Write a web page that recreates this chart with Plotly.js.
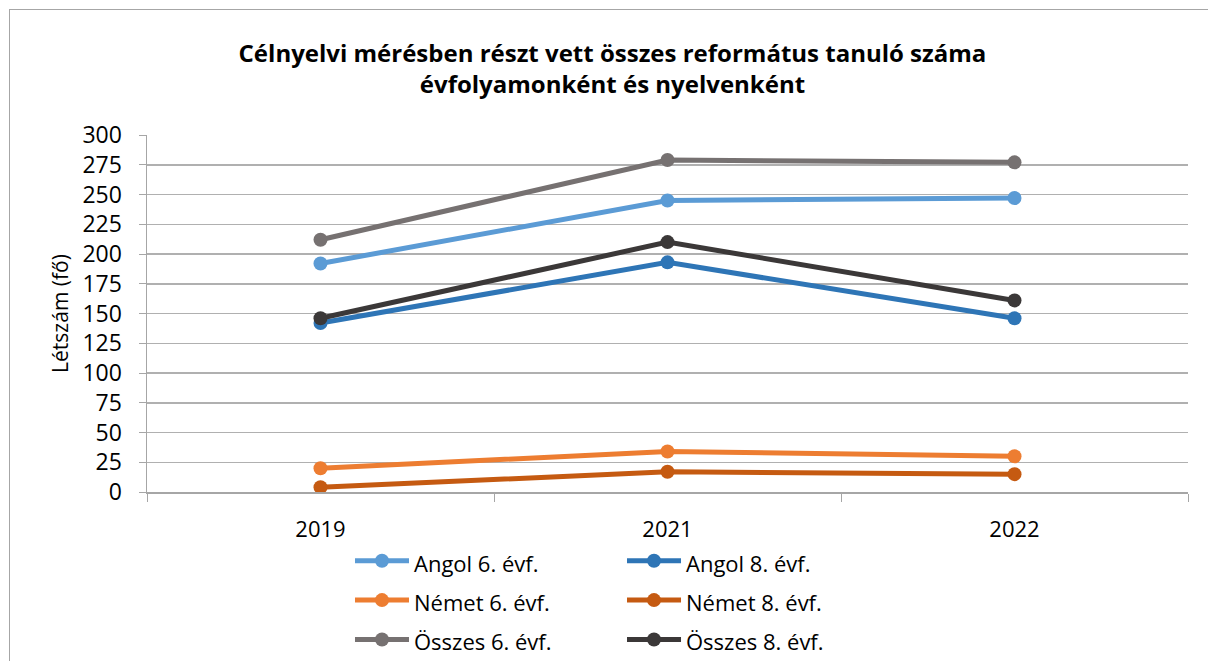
<!DOCTYPE html>
<html>
<head>
<meta charset="utf-8">
<script src="https://cdn.plot.ly/plotly-3.0.1.min.js"></script>
<style>
  html, body { margin: 0; padding: 0; background: #ffffff; }
  #chart { position: absolute; left: 0; top: 0; width: 1208px; height: 661px; }
  #frame { position: absolute; left: 9px; top: 9px; width: 1220px; height: 700px;
           border-left: 1px solid #a6a6a6; border-top: 1px solid #a6a6a6; pointer-events: none; }
</style>
</head>
<body>
<div id="chart"></div>
<div id="frame"></div>
<script>
const years = ["2019", "2021", "2022"];
const seriesNames = ["Angol 6. évf.", "Angol 8. évf.", "Német 6. évf.", "Német 8. évf.", "Összes 6. évf.", "Összes 8. évf."];
const angol6 = [192, 245, 247];
const angol8 = [142, 193, 146];
const nemet6 = [20, 34, 30];
const nemet8 = [4, 17, 15];
const osszes6 = [212, 279, 277];
const osszes8 = [146, 210, 161];
const seriesColors = ["#5B9BD5", "#2E75B6", "#ED7D31", "#C55A11", "#767171", "#3B3838"];
const titleText = "Célnyelvi mérésben részt vett összes református tanuló száma<br>évfolyamonként és nyelvenként";
const yTitle = "Létszám (fő)";
const yTicks = [0, 25, 50, 75, 100, 125, 150, 175, 200, 225, 250, 275, 300];

const allValues = [angol6, angol8, nemet6, nemet8, osszes6, osszes8];
const FONT = "'Open Sans', Calibri, Lato, sans-serif";

const traces = allValues.map((vals, i) => ({
  type: "scatter",
  mode: "lines+markers",
  name: "<span style='font-size:22px'>" + seriesNames[i] + "</span>",
  legend: (i % 2 === 0) ? "legend" : "legend2",
  x: years,
  y: vals,
  line: { color: seriesColors[i], width: 5 },
  marker: { color: seriesColors[i], size: 14, symbol: "circle" }
}));

const legendBase = {
  orientation: "v",
  xref: "paper", xanchor: "left",
  yref: "paper", y: -0.1232, yanchor: "top",
  itemwidth: 54,
  font: { family: FONT, size: 28, color: "#000000" },
  bgcolor: "rgba(0,0,0,0)",
  traceorder: "normal"
};

const layout = {
  width: 1208,
  height: 661,
  margin: { l: 147, r: 20, t: 135, b: 169, autoexpand: false },
  paper_bgcolor: "rgba(0,0,0,0)",
  plot_bgcolor: "#ffffff",
  font: { family: FONT, color: "#000000", size: 22 },
  showlegend: true,
  title: {
    text: titleText,
    font: { family: FONT, size: 24, color: "#000000", weight: "bold" },
    xref: "container", x: 0.507, xanchor: "center",
    yref: "container", y: 1 - 62 / 661, yanchor: "middle"
  },
  xaxis: {
    type: "category",
    range: [-0.5, 2.5],
    showgrid: false,
    showline: true,
    linecolor: "#a6a6a6",
    linewidth: 1.5,
    ticks: "outside",
    tickson: "boundaries",
    ticklen: 8,
    tickcolor: "#a6a6a6",
    ticklabelstandoff: 17,
    tickfont: { family: FONT, size: 22, color: "#000000" },
    zeroline: false,
    fixedrange: true
  },
  yaxis: {
    range: [0, 300],
    tickvals: yTicks,
    showgrid: true,
    gridcolor: "#b0b0b0",
    gridwidth: 1.5,
    showline: true,
    linecolor: "#a6a6a6",
    linewidth: 1.5,
    ticks: "outside",
    ticklen: 7,
    tickcolor: "#a6a6a6",
    ticklabelstandoff: 12,
    zeroline: false,
    tickfont: { family: FONT, size: 23, color: "#000000" },
    title: { text: yTitle, font: { family: FONT, size: 21, color: "#000000" }, standoff: 8 },
    fixedrange: true
  },
  legend: Object.assign({}, legendBase, { x: 0.195 }),
  legend2: Object.assign({}, legendBase, { x: 0.4563 })
};

Plotly.newPlot("chart", traces, layout, { displayModeBar: false, staticPlot: true });
</script>
</body>
</html>
